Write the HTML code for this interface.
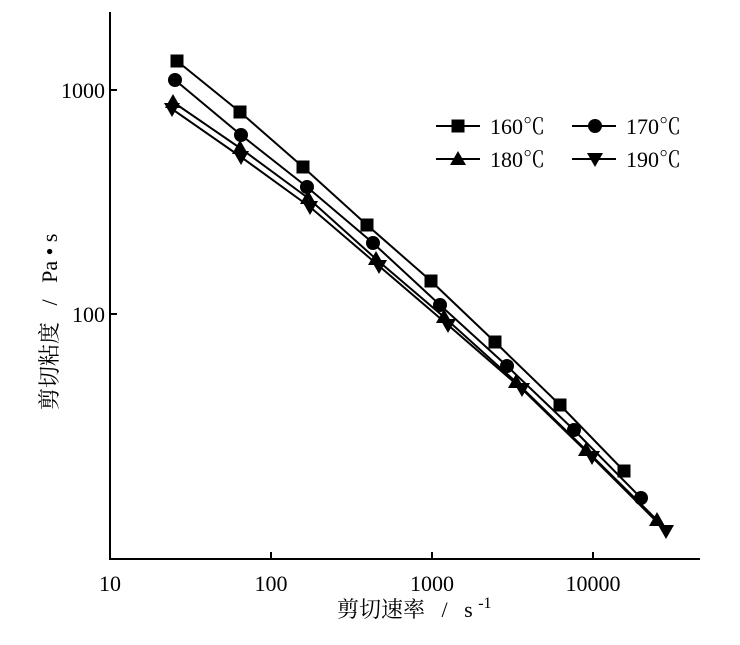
<!DOCTYPE html>
<html><head><meta charset="utf-8"><style>
body{margin:0;background:#fff}
text{font-family:"Liberation Serif","Noto Serif CJK SC",serif;fill:#000;white-space:pre}
.c{font-family:"Noto Serif CJK SC",serif}
</style></head><body>
<svg width="740" height="640" xmlns="http://www.w3.org/2000/svg">
<defs>
<rect id="sq" x="-6.5" y="-6.5" width="13" height="13"/>
<circle id="ci" r="7"/>
<polygon id="tu" points="0,-8 8,6 -8,6"/>
<polygon id="td" points="0,8 8,-6 -8,-6"/>
</defs>
<g stroke="#000" stroke-width="2" fill="none">
<polyline points="110,12 110,559 700,559"/>
<line x1="271" y1="559" x2="271" y2="552"/><line x1="432" y1="559" x2="432" y2="552"/><line x1="593" y1="559" x2="593" y2="552"/>
<line x1="110" y1="90" x2="117" y2="90"/><line x1="110" y1="314" x2="117" y2="314"/>
<polyline points="177,61 240,112 303,167 367,225 431,281 495,342 560,405 624,471"/>
<polyline points="175,80 241,135 307,187 373,243 440,305 507,366 574,430 641,498"/>
<polyline points="173,102 240,148 308,198 376,259 444,317 516,382 586,450 657,520"/>
<polyline points="172,109 241,157 310,207 379,266 448,325 522,389 592,457 666,531"/>
<line x1="436" y1="126" x2="480" y2="126"/><line x1="572" y1="126" x2="616" y2="126"/>
<line x1="436" y1="159" x2="480" y2="159"/><line x1="572" y1="159" x2="616" y2="159"/>
</g>
<g fill="#000">
<use href="#sq" x="177" y="61"/><use href="#sq" x="240" y="112"/><use href="#sq" x="303" y="167"/><use href="#sq" x="367" y="225"/><use href="#sq" x="431" y="281"/><use href="#sq" x="495" y="342"/><use href="#sq" x="560" y="405"/><use href="#sq" x="624" y="471"/>
<use href="#ci" x="175" y="80"/><use href="#ci" x="241" y="135"/><use href="#ci" x="307" y="187"/><use href="#ci" x="373" y="243"/><use href="#ci" x="440" y="305"/><use href="#ci" x="507" y="366"/><use href="#ci" x="574" y="430"/><use href="#ci" x="641" y="498"/>
<use href="#tu" x="173" y="102"/><use href="#tu" x="240" y="148"/><use href="#tu" x="308" y="198"/><use href="#tu" x="376" y="259"/><use href="#tu" x="444" y="317"/><use href="#tu" x="516" y="382"/><use href="#tu" x="586" y="450"/><use href="#tu" x="657" y="520"/>
<use href="#td" x="172" y="109"/><use href="#td" x="241" y="157"/><use href="#td" x="310" y="207"/><use href="#td" x="379" y="266"/><use href="#td" x="448" y="325"/><use href="#td" x="522" y="389"/><use href="#td" x="592" y="457"/><use href="#td" x="666" y="531"/>
<use href="#sq" x="458" y="126"/><use href="#ci" x="595" y="126"/>
<use href="#tu" x="458" y="159"/><use href="#td" x="595" y="159"/>
</g>
<g font-size="22">
<text x="490" y="134">160<tspan class="c">℃</tspan></text><text x="626" y="134">170<tspan class="c">℃</tspan></text>
<text x="490" y="167">180<tspan class="c">℃</tspan></text><text x="626" y="167">190<tspan class="c">℃</tspan></text>
<text x="110" y="591" text-anchor="middle">10</text>
<text x="271" y="591" text-anchor="middle">100</text>
<text x="432" y="591" text-anchor="middle">1000</text>
<text x="593" y="591" text-anchor="middle">10000</text>
<text x="105" y="98" text-anchor="end">1000</text>
<text x="105" y="322" text-anchor="end">100</text>
<text x="337" y="617" font-size="22">剪切速率&#160;&#160;&#160;/&#160;&#160;&#160;s&#160;<tspan font-size="16" dy="-9">-1</tspan></text>
<text transform="translate(57,410) rotate(-90)" font-size="22">剪切粘度&#160;&#160;&#160;/&#160;&#160;&#160;Pa&#160;•&#160;s</text>
</g>
</svg>
</body></html>
